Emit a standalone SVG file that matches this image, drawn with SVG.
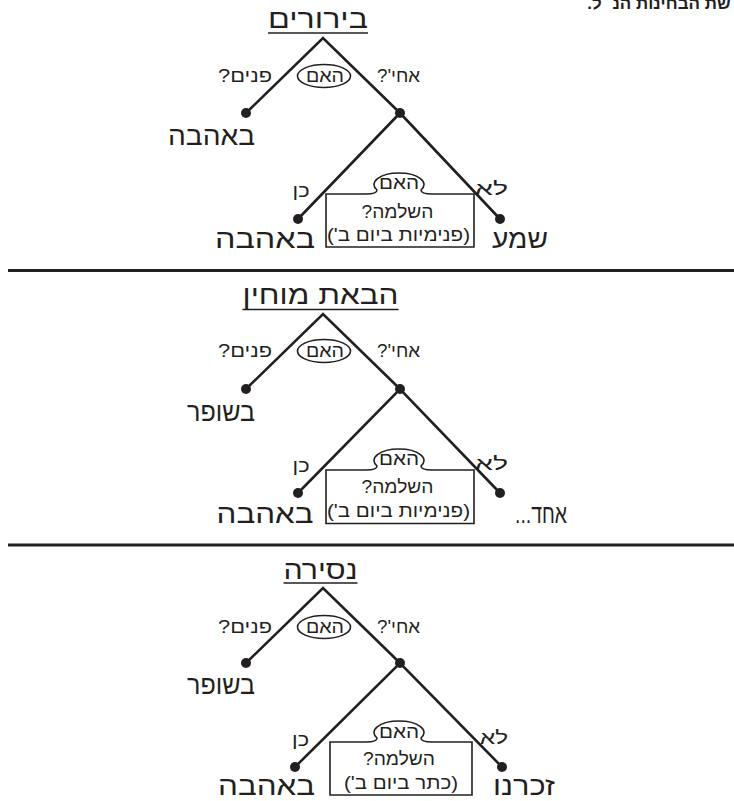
<svg xmlns="http://www.w3.org/2000/svg" width="734" height="801" viewBox="0 0 734 801">
<style>
text { font-family: "Liberation Sans", "DejaVu Sans", sans-serif; fill: #231f20; direction: rtl; text-anchor: middle; }
.big { font-size: 26px; }
.med { font-size: 18px; }
.sm { font-size: 18px; }
.ln { stroke: #231f20; stroke-width: 2.6; fill: none; stroke-linecap: round; }
.ul { stroke: #231f20; stroke-width: 1.6; }
.sep { stroke: #231f20; stroke-width: 2.8; }
.dot { fill: #231f20; }
.shape { fill: #fff; stroke: #231f20; stroke-width: 1.6; }
</style>
<rect width="734" height="801" fill="#fff"/>

<text direction="rtl" x="659" y="9" style="font-size:17px;font-weight:bold">&#x200F;שת הבחינות הנ״ל.&#x200F;</text>

<line class="sep" x1="8" y1="270.5" x2="734" y2="270.5"/>
<line class="sep" x1="8" y1="545" x2="734" y2="545"/>

<g id="connectors">
  <!-- section 1 -->
  <polyline class="ln" points="246,113 323,38 400,113"/>
  <polyline class="ln" points="298,219 400,113 500,219"/>
  <!-- section 2 -->
  <polyline class="ln" points="246,389 323,314 400,389"/>
  <polyline class="ln" points="298,493 400,389 500,493"/>
  <!-- section 3 -->
  <polyline class="ln" points="246,663 323,588 400,663"/>
  <polyline class="ln" points="295,767 400,663 502,767"/>
  <g id="edge-labels">
    <text direction="rtl" class="med" x="245" y="82" textLength="54" lengthAdjust="spacingAndGlyphs">פנים?&#x200F;</text>
    <text direction="rtl" class="med" x="398.5" y="82" textLength="43" lengthAdjust="spacingAndGlyphs">אחי'?&#x200F;</text>
    <text direction="rtl" class="med" x="301" y="197" textLength="17" lengthAdjust="spacingAndGlyphs">כן</text>
    <text direction="rtl" class="med" x="491.5" y="195" textLength="33" lengthAdjust="spacingAndGlyphs">לא</text>

    <text direction="rtl" class="med" x="245" y="357" textLength="54" lengthAdjust="spacingAndGlyphs">פנים?&#x200F;</text>
    <text direction="rtl" class="med" x="398.5" y="357" textLength="43" lengthAdjust="spacingAndGlyphs">אחי'?&#x200F;</text>
    <text direction="rtl" class="med" x="301" y="472" textLength="17" lengthAdjust="spacingAndGlyphs">כן</text>
    <text direction="rtl" class="med" x="491.5" y="470" textLength="33" lengthAdjust="spacingAndGlyphs">לא</text>

    <text direction="rtl" class="med" x="245" y="633" textLength="54" lengthAdjust="spacingAndGlyphs">פנים?&#x200F;</text>
    <text direction="rtl" class="med" x="398.5" y="633" textLength="43" lengthAdjust="spacingAndGlyphs">אחי'?&#x200F;</text>
    <text direction="rtl" class="med" x="300.5" y="746" textLength="17" lengthAdjust="spacingAndGlyphs">כן</text>
    <text direction="rtl" class="med" x="494" y="744" textLength="28" lengthAdjust="spacingAndGlyphs">לא</text>
  </g>
</g>

<!-- ===== Section 1 ===== -->
<g id="s1-title">
  <text direction="rtl" class="big" x="318" y="28" textLength="100" lengthAdjust="spacingAndGlyphs">בירורים</text>
  <line class="ul" x1="268" y1="33" x2="368" y2="33"/>
</g>
<g id="s1-q1">
  <ellipse class="shape" cx="324" cy="76" rx="26.5" ry="11.5"/>
  <text direction="rtl" class="sm" x="325" y="82" textLength="38" lengthAdjust="spacingAndGlyphs">האם</text>
</g>
<g id="s1-leaf-left">
  <circle class="dot" cx="246" cy="113" r="5"/>
  <text direction="rtl" class="big" x="211.5" y="145" textLength="87" lengthAdjust="spacingAndGlyphs">באהבה</text>
</g>
<g id="s1-mid">
  <circle class="dot" cx="400" cy="113" r="5"/>
</g>
<g id="s1-q2">
  <path class="shape" d="M326,194 H366 c8,0 11,-2 11,-4 a25,11.5 0 1 1 44,0 c0,2 3,4 11,4 H474 V247 H326 Z"/>
  <text direction="rtl" class="sm" x="399" y="189" textLength="40" lengthAdjust="spacingAndGlyphs">האם</text>
  <text direction="rtl" class="med" x="397.5" y="218" textLength="72" lengthAdjust="spacingAndGlyphs">השלמה?&#x200F;</text>
  <text direction="rtl" class="sm" x="398.5" y="241" textLength="143" lengthAdjust="spacingAndGlyphs">&#x200F;(פנימיות ביום ב')&#x200F;</text>
</g>
<g id="s1-leaf-yes">
  <circle class="dot" cx="298" cy="219" r="5"/>
  <text direction="rtl" class="big" x="265" y="248" textLength="100" lengthAdjust="spacingAndGlyphs">באהבה</text>
</g>
<g id="s1-leaf-no">
  <circle class="dot" cx="500" cy="219" r="5"/>
  <text direction="rtl" class="big" x="520" y="248" textLength="56" lengthAdjust="spacingAndGlyphs">שמע</text>
</g>

<!-- ===== Section 2 ===== -->
<g id="s2-title">
  <text direction="rtl" class="big" x="320.5" y="304" textLength="156" lengthAdjust="spacingAndGlyphs">הבאת מוחין</text>
  <line class="ul" x1="242.5" y1="309.5" x2="398.5" y2="309.5"/>
</g>
<g id="s2-q1">
  <ellipse class="shape" cx="324" cy="351" rx="26.5" ry="11.5"/>
  <text direction="rtl" class="sm" x="325" y="357" textLength="38" lengthAdjust="spacingAndGlyphs">האם</text>
</g>
<g id="s2-leaf-left">
  <circle class="dot" cx="246" cy="389" r="5"/>
  <text direction="rtl" class="big" x="221" y="421" textLength="68" lengthAdjust="spacingAndGlyphs">בשופר</text>
</g>
<g id="s2-mid">
  <circle class="dot" cx="400" cy="389" r="5"/>
</g>
<g id="s2-q2">
  <path class="shape" d="M326,470 H366 c8,0 11,-2 11,-4 a25,11.5 0 1 1 44,0 c0,2 3,4 11,4 H474 V523.5 H326 Z"/>
  <text direction="rtl" class="sm" x="399" y="465" textLength="40" lengthAdjust="spacingAndGlyphs">האם</text>
  <text direction="rtl" class="med" x="397.5" y="493" textLength="72" lengthAdjust="spacingAndGlyphs">השלמה?&#x200F;</text>
  <text direction="rtl" class="sm" x="398.5" y="517" textLength="143" lengthAdjust="spacingAndGlyphs">&#x200F;(פנימיות ביום ב')&#x200F;</text>
</g>
<g id="s2-leaf-yes">
  <circle class="dot" cx="298" cy="493" r="5"/>
  <text direction="rtl" class="big" x="265" y="523" textLength="97" lengthAdjust="spacingAndGlyphs">באהבה</text>
</g>
<g id="s2-leaf-no">
  <circle class="dot" cx="500" cy="493" r="5"/>
  <text direction="rtl" class="big" x="541" y="523" textLength="52" lengthAdjust="spacingAndGlyphs">אחד...&#x200F;</text>
</g>

<!-- ===== Section 3 ===== -->
<g id="s3-title">
  <text direction="rtl" class="big" x="320.5" y="579" textLength="74" lengthAdjust="spacingAndGlyphs">נסירה</text>
  <line class="ul" x1="283.5" y1="583" x2="357.5" y2="583"/>
</g>
<g id="s3-q1">
  <ellipse class="shape" cx="324" cy="627" rx="26.5" ry="11.5"/>
  <text direction="rtl" class="sm" x="325" y="633" textLength="38" lengthAdjust="spacingAndGlyphs">האם</text>
</g>
<g id="s3-leaf-left">
  <circle class="dot" cx="246" cy="663" r="5"/>
  <text direction="rtl" class="big" x="221" y="694" textLength="68" lengthAdjust="spacingAndGlyphs">בשופר</text>
</g>
<g id="s3-mid">
  <circle class="dot" cx="400" cy="663" r="5"/>
</g>
<g id="s3-q2">
  <path class="shape" d="M330,742 H366 c8,0 11,-2 11,-4 a25,11.5 0 1 1 44,0 c0,2 3,4 11,4 H472 V795 H330 Z"/>
  <text direction="rtl" class="sm" x="399" y="738" textLength="40" lengthAdjust="spacingAndGlyphs">האם</text>
  <text direction="rtl" class="med" x="399" y="765" textLength="72" lengthAdjust="spacingAndGlyphs">השלמה?&#x200F;</text>
  <text direction="rtl" class="sm" x="401" y="789" textLength="114" lengthAdjust="spacingAndGlyphs">&#x200F;(כתר ביום ב')&#x200F;</text>
</g>
<g id="s3-leaf-yes">
  <circle class="dot" cx="295" cy="767" r="5"/>
  <text direction="rtl" class="big" x="266.5" y="795" textLength="97" lengthAdjust="spacingAndGlyphs">באהבה</text>
</g>
<g id="s3-leaf-no">
  <circle class="dot" cx="502" cy="767" r="5"/>
  <text direction="rtl" class="big" x="524" y="795" textLength="62" lengthAdjust="spacingAndGlyphs">זכרנו</text>
</g>
</svg>
